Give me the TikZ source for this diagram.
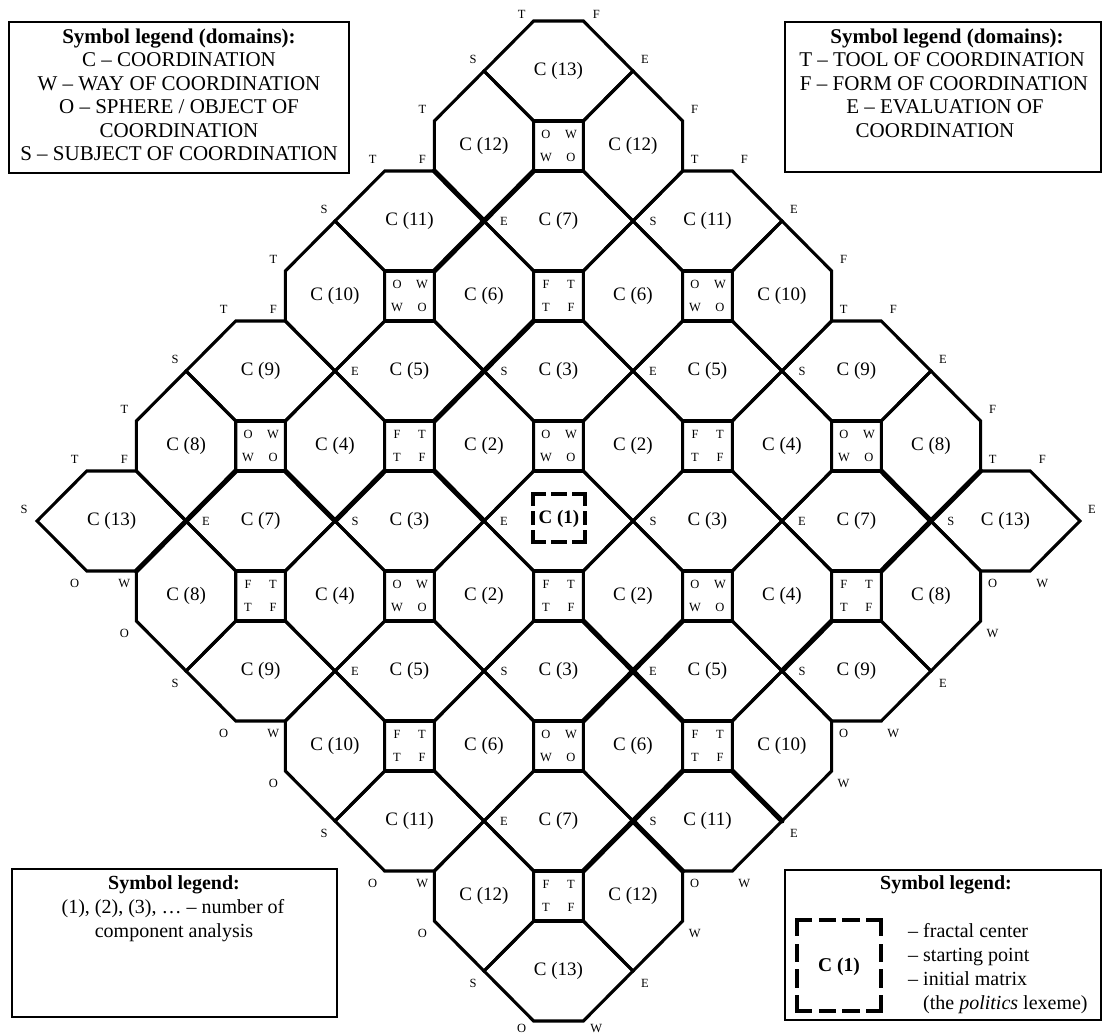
\documentclass[tikz,border=0pt]{standalone}
\usepackage{fontspec}
\setmainfont{Liberation Serif}
\begin{document}
\begin{tikzpicture}[x=1pt,y=-1pt,
  cellline/.style={line width=3.1pt, line join=miter, miter limit=4},
  thk/.style={line width=5pt, line cap=round},
  clabel/.style={font=\fontsize{19}{22}\selectfont, inner sep=0pt},
  small/.style={font=\fontsize{12.5}{14}\selectfont, inner sep=0pt},
  legbox/.style={draw, line width=1.9pt},
  legtext/.style={font=\fontsize{20}{24}\selectfont, anchor=base, inner sep=0pt},
  toptext/.style={font=\fontsize{21}{24}\selectfont, anchor=base, inner sep=0pt},
  dashside/.style={line width=3.6pt, line cap=rect},
]
\useasboundingbox (0,0) rectangle (1102,1035);

\begin{scope}[shift={(558.5,521)}, x=24.83pt, y=25pt]
  % horizontal hexagons
  \foreach \p/\q/\n [count=\i] in {2/0/3, -2/0/3, 0/2/3, 0/-2/3, 4/0/7, -4/0/7, 0/4/7, 0/-4/7,
      2/2/5, -2/2/5, 2/-2/5, -2/-2/5, 6/0/13, -6/0/13, 0/6/13, 0/-6/13,
      4/2/9, -4/2/9, 4/-2/9, -4/-2/9, 2/4/11, -2/4/11, 2/-4/11, -2/-4/11}{
    \draw[cellline, shift={(3*\p,3*\q)}] (-1,2) -- (1,2) -- (3,0) -- (1,-2) -- (-1,-2) -- (-3,0) -- cycle;
    \node[clabel] (hex\i) at (3*\p,3*\q) {C (\n)};
  }
  \draw[cellline] (-1,2) -- (1,2) -- (3,0) -- (1,-2) -- (-1,-2) -- (-3,0) -- cycle;
  % vertical hexagons
  \foreach \p/\q/\n [count=\i] in {1/1/2, -1/1/2, 1/-1/2, -1/-1/2, 3/1/4, -3/1/4, 3/-1/4, -3/-1/4,
      1/3/6, -1/3/6, 1/-3/6, -1/-3/6, 5/1/8, -5/1/8, 5/-1/8, -5/-1/8,
      3/3/10, -3/3/10, 3/-3/10, -3/-3/10, 1/5/12, -1/5/12, 1/-5/12, -1/-5/12}{
    \draw[cellline, shift={(3*\p,3*\q)}] (0,3) -- (2,1) -- (2,-1) -- (0,-3) -- (-2,-1) -- (-2,1) -- cycle;
    \node[clabel] (vhex\i) at (3*\p,3*\q) {C (\n)};
  }
  % squares O W / W O
  \foreach \p/\q [count=\i] in {0/5, -2/3, 2/3, -4/1, 0/1, 4/1, -2/-1, 2/-1, 0/-3}{
    \draw[cellline, shift={(3*\p,3*\q)}] (-1,-1) rectangle (1,1);
    \node[small, xshift=-12.5pt, yshift=11.5pt] (owa\i) at (3*\p,3*\q) {O};
    \node[small, xshift=12.5pt, yshift=11.5pt] (owb\i) at (3*\p,3*\q) {W};
    \node[small, xshift=-12.5pt, yshift=-11.5pt] (owc\i) at (3*\p,3*\q) {W};
    \node[small, xshift=12.5pt, yshift=-11.5pt] (owd\i) at (3*\p,3*\q) {O};
  }
  % squares F T / T F
  \foreach \p/\q [count=\i] in {0/3, -2/1, 2/1, -4/-1, 0/-1, 4/-1, -2/-3, 2/-3, 0/-5}{
    \draw[cellline, shift={(3*\p,3*\q)}] (-1,-1) rectangle (1,1);
    \node[small, xshift=-12.5pt, yshift=11.5pt] (fta\i) at (3*\p,3*\q) {F};
    \node[small, xshift=12.5pt, yshift=11.5pt] (ftb\i) at (3*\p,3*\q) {T};
    \node[small, xshift=-12.5pt, yshift=-11.5pt] (ftc\i) at (3*\p,3*\q) {T};
    \node[small, xshift=12.5pt, yshift=-11.5pt] (ftd\i) at (3*\p,3*\q) {F};
  }
  % thicker segments
  \foreach \a/\b/\c/\d in {-5/14/-3/12, -3/12/-5/10, -3/12/-1/14, -3/6/-1/8, -3/6/-5/4,
      -11/2/-9/0, -7/2/-9/0, -13/2/-15/0, -5/2/-3/0, -15/0/-17/-2,
      1/-4/3/-6, 5/-4/3/-6, 3/-6/1/-8, 3/-6/5/-8, 11/-4/9/-6, 15/0/13/-2,
      5/-10/3/-12, 3/-12/1/-14, 3/-12/5/-14, 7/-10/9/-12, 15/0/17/2, 13/2/15/0}{
    \draw[thk] (\a,\b) -- (\c,\d);
  }
  % inner junction labels
  \foreach \p/\q/\t [count=\i] in {-5/0/E, -3/0/S, -1/0/E, 1/0/S, 3/0/E, 5/0/S,
      -3/2/E, -1/2/S, 1/2/E, 3/2/S, -3/-2/E, -1/-2/S, 1/-2/E, 3/-2/S,
      -1/4/E, 1/4/S, -1/-4/E, 1/-4/S}{
    \node[small, xshift=20pt] (jn\i) at (3*\p,3*\q) {\t};
  }
  % outer vertex labels
  \foreach \a/\b/\t/\dx/\dy [count=\i] in {
      -1/20/T/-12/7, 1/20/F/13/7, -1/-20/O/-12/-7, 1/-20/W/13/-7,
      -3/18/S/-11/12, -5/16/T/-12/12, -5/14/F/-12/12, -7/14/T/-12/12, -9/12/S/-11/12,
      -11/10/T/-12/12, -11/8/F/-12/12, -13/8/T/-12/12, -15/6/S/-11/12, -17/4/T/-12/12,
      -17/2/F/-12/12, -19/2/T/-12/12, -21/0/S/-13/12,
      3/18/E/12/12, 5/16/F/12/12, 5/14/T/12/12, 7/14/F/12/12, 9/12/E/12/12,
      11/10/F/12/12, 11/8/T/12/12, 13/8/F/12/12, 15/6/E/12/12, 17/4/F/12/12,
      17/2/T/12/12, 19/2/F/12/12, 21/0/E/12/12,
      -19/-2/O/-12/-12, -17/-2/W/-12/-12, -17/-4/O/-12/-12, -15/-6/S/-11/-12,
      -13/-8/O/-12/-12, -11/-8/W/-12/-12, -11/-10/O/-12/-12, -9/-12/S/-11/-12,
      -7/-14/O/-12/-12, -5/-14/W/-12/-12, -5/-16/O/-12/-12, -3/-18/S/-11/-12,
      19/-2/W/12/-12, 17/-2/O/12/-12, 17/-4/W/12/-12, 15/-6/E/12/-12,
      13/-8/W/12/-12, 11/-8/O/12/-12, 11/-10/W/12/-12, 9/-12/E/12/-12,
      7/-14/W/12/-12, 5/-14/O/12/-12, 5/-16/W/12/-12, 3/-18/E/12/-12}{
    \node[small, xshift=\dx pt, yshift=\dy pt] (ol\i) at (\a,\b) {\t};
  }
\end{scope}

% fractal centre C (1)
\node[font=\bfseries\fontsize{19}{22}\selectfont, inner sep=0pt] (c1) at (559,519) {C (1)};
\draw[dashside, dash pattern=on 11.6pt off 8.6pt] (533,494) -- (585,494);
\draw[dashside, dash pattern=on 11.6pt off 8.6pt] (533,542) -- (585,542);
\draw[dashside, dash pattern=on 10.6pt off 8.1pt] (533,494) -- (533,542);
\draw[dashside, dash pattern=on 10.6pt off 8.1pt] (585,494) -- (585,542);

% legend boxes
\draw[legbox] (9,22) rectangle (349,173);
\node[toptext] (tl1) at (179,43.5) {\textbf{Symbol legend (domains):}};
\node[toptext] (tl2) at (179,67) {C – COORDINATION};
\node[toptext] (tl3) at (179,90.5) {W – WAY OF COORDINATION};
\node[toptext] (tl4) at (179,114) {O – SPHERE / OBJECT OF};
\node[toptext] (tl5) at (179,137.5) {COORDINATION};
\node[toptext] (tl6) at (179,161) {S – SUBJECT OF COORDINATION};

\draw[legbox] (785,22) rectangle (1101,172);
\node[toptext] (tr1) at (947,43.5) {\textbf{Symbol legend (domains):}};
\node[toptext] (tr2) at (942,67) {T – TOOL OF COORDINATION};
\node[toptext] (tr3) at (944,90.5) {F – FORM OF COORDINATION};
\node[toptext] (tr4) at (945,114) {E – EVALUATION OF};
\node[toptext] (tr5) at (935,137.5) {COORDINATION};

\draw[legbox] (12,869) rectangle (337,1017);
\node[legtext] (bl1) at (174,889) {\textbf{Symbol legend:}};
\node[legtext] (bl2) at (173,913) {(1), (2), (3), … – number of};
\node[legtext] (bl3) at (174,937) {component analysis};

\draw[legbox] (785,870) rectangle (1101,1020);
\node[legtext] (br1) at (946,889) {\textbf{Symbol legend:}};
\node[font=\bfseries\fontsize{19.5}{22}\selectfont, inner sep=0pt] (c1leg) at (839,967) {C (1)};
\draw[dashside, line width=4.5pt, dash pattern=on 12.75pt off 11pt] (797,920) -- (881,920);
\draw[dashside, line width=4.5pt, dash pattern=on 12.75pt off 11pt] (797,1011) -- (881,1011);
\draw[dashside, line width=4.5pt, dash pattern=on 13.75pt off 12pt] (797,920) -- (797,1011);
\draw[dashside, line width=4.5pt, dash pattern=on 13.75pt off 12pt] (881,920) -- (881,1011);
\node[legtext, anchor=base west] (br2) at (908,937) {– fractal center};
\node[legtext, anchor=base west] (br3) at (908,961) {– starting point};
\node[legtext, anchor=base west] (br4) at (908,985) {– initial matrix};
\node[legtext, anchor=base west] (br5) at (923,1009) {(the \textit{politics} lexeme)};
\end{tikzpicture}
\end{document}
